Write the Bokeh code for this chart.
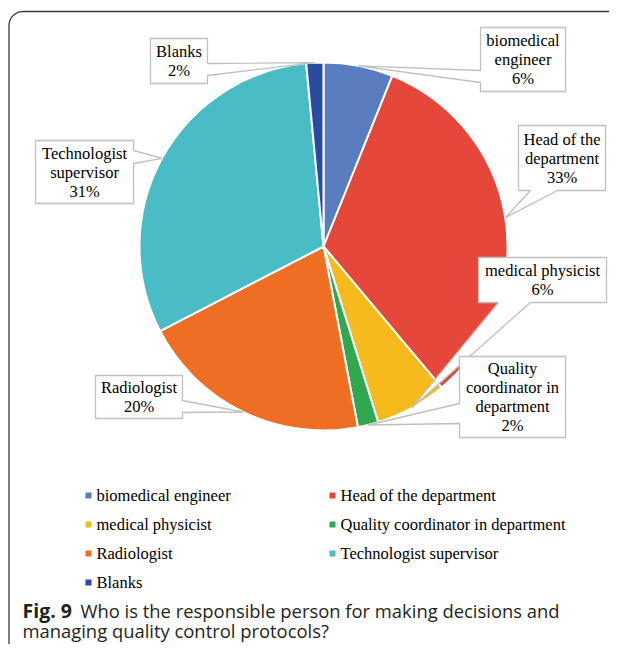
import math
from bokeh.plotting import figure
from bokeh.models import Range1d, ColumnDataSource
from bokeh.embed import file_html
from bokeh.resources import INLINE
from bokeh.core.properties import value

# ---------------- data ----------------
categories = ["biomedical engineer", "Head of the department", "medical physicist",
              "Quality coordinator in department", "Radiologist",
              "Technologist supervisor", "Blanks"]
shares = [6.1, 32.8, 6.3, 1.8, 20.4, 31.1, 1.5]
colors = ["#5A7DBF", "#E5473A", "#F6BA1C", "#2FA84F", "#EE6F23", "#4ABCC6", "#2A4CA0"]
label_lines = [["biomedical", "engineer"], ["Head of the", "department"],
               ["medical physicist"], ["Quality", "coordinator in", "department"],
               ["Radiologist"], ["Technologist", "supervisor"], ["Blanks"]]
caption_bold = "Fig. 9"
caption_rest = "Who is the responsible person for making decisions and"
caption_line2 = "managing quality control protocols?"

# ---------------- layout (picture pixel coordinates) ----------------
W, H = 609, 644
OX, OY = 0, 0
CX, CY, R = 323, 246, 184
# callout boxes: (x0, y0, x1, y1), side of pointer, base span on that side
callouts = [
    ((480, 27, 565, 91), "left", (70, 82)),
    ((518, 125, 605, 190), "bottom", (530, 557)),
    ((478, 257, 606, 302), "bottom", (498, 530)),
    ((459, 356, 565, 437), "left", (403, 423)),
    ((95, 375, 182, 418), "right", (400, 412)),
    ((35, 140, 133, 203), "right", (150, 163)),
    ((150, 38, 207, 83), "right", (63, 75)),
]
legend_cols = [88, 332]
legend_rows = [495, 524, 553, 582]
LH = 19

SERIF = value("Liberation Serif")
SANS = value("Open Sans")

p = figure(width=W, height=H, x_range=Range1d(OX, OX + W), y_range=Range1d(-(OY + H), -OY),
           output_backend="svg", toolbar_location=None, min_border=0,
           x_axis_location=None, y_axis_location=None, tools="")
p.grid.visible = False
p.outline_line_color = None
p.background_fill_color = "white"
p.border_fill_color = "white"

# outer rounded frame (top-left corner)
rr = 14
fx, fy = 8.5, 11
xs = [fx, fx]
ys = [700, fy + rr]
for k in range(1, 16):
    t = math.pi + (math.pi / 2) * k / 15
    xs.append(fx + rr + rr * math.cos(t))
    ys.append(fy + rr + rr * math.sin(t))
xs.append(700)
ys.append(fy)
p.line(xs, [-y for y in ys], line_color="#3a3a3a", line_width=1.3)

# pie
total = sum(shares)
starts, ends, mids = [], [], []
cum = 0.0
for v in shares:
    a0 = math.pi / 2 - 2 * math.pi * cum / total
    cum += v
    a1 = math.pi / 2 - 2 * math.pi * cum / total
    starts.append(a0)
    ends.append(a1)
    mids.append((a0 + a1) / 2)
src = ColumnDataSource(dict(start=starts, end=ends, color=colors))
p.wedge(x=CX, y=-CY, radius=R, start_angle="start", end_angle="end", direction="clock",
        fill_color="color", line_color="white", line_width=2, source=src)

# callouts
pxs, pys = [], []
tx, ty, tt = [], [], []
for i, v in enumerate(shares):
    (x0, y0, x1, y1), side, (b0, b1) = callouts[i]
    tipx = CX + R * math.cos(mids[i])
    tipy = CY - R * math.sin(mids[i])
    pts = [(x0, y0)]
    if side == "top":
        pts += [(b0, y0), (tipx, tipy), (b1, y0)]
    pts.append((x1, y0))
    if side == "right":
        pts += [(x1, b0), (tipx, tipy), (x1, b1)]
    pts.append((x1, y1))
    if side == "bottom":
        pts += [(b1, y1), (tipx, tipy), (b0, y1)]
    pts.append((x0, y1))
    if side == "left":
        pts += [(x0, b1), (tipx, tipy), (x0, b0)]
    pxs.append([q[0] for q in pts])
    pys.append([-q[1] for q in pts])
    lines = label_lines[i] + [f"{round(v)}%"]
    mx, my = (x0 + x1) / 2, (y0 + y1) / 2
    n = len(lines)
    for j, s in enumerate(lines):
        tx.append(mx)
        ty.append(-(my + (j - (n - 1) / 2) * LH))
        tt.append(s)
p.patches(pxs, pys, fill_color="white", line_color="#BFBFBF", line_width=1.3)
p.text(x=tx, y=ty, text=tt, text_font=SERIF, text_font_size="16.5px",
       text_align="center", text_baseline="middle", text_color="#000000")

# legend
lx, ly, lt, lsx, lsy = [], [], [], [], []
for i, c in enumerate(categories):
    sx = legend_cols[i % 2]
    sy = legend_rows[i // 2]
    lsx.append(sx)
    lsy.append(-sy)
    lx.append(sx + 8)
    ly.append(-sy)
    lt.append(c)
p.scatter(x=lsx, y=lsy, marker="square", size=6, fill_color=colors, line_color=None)
p.text(x=lx, y=ly, text=lt, text_font=SERIF, text_font_size="16.5px",
       text_align="left", text_baseline="middle", text_color="#000000")

# caption
p.text(x=[22], y=[-610], text=[caption_bold], text_font=SANS, text_font_size="19.5px",
       text_font_style="bold", text_baseline="alphabetic", text_color="#231F20")
p.text(x=[80], y=[-610], text=[caption_rest], text_font=SANS, text_font_size="18.4px",
       text_baseline="alphabetic", text_color="#231F20")
p.text(x=[22], y=[-630], text=[caption_line2], text_font=SANS, text_font_size="18.4px",
       text_baseline="alphabetic", text_color="#231F20")

open("out.html", "w").write(file_html(p, INLINE))
